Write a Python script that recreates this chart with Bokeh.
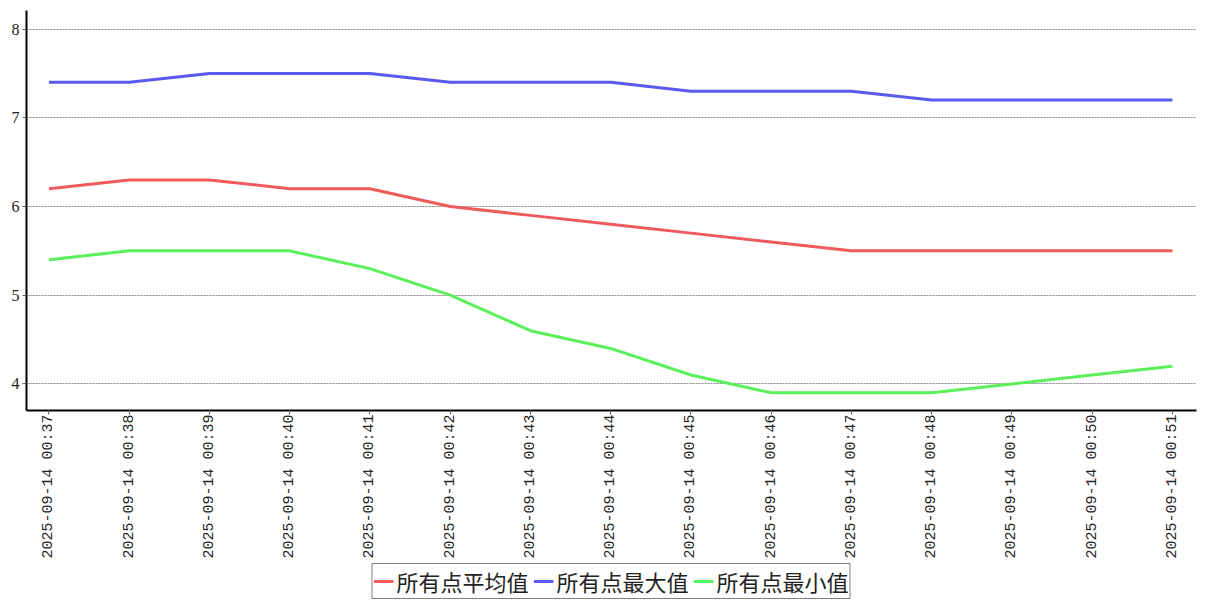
from bokeh.plotting import figure
from bokeh.layouts import column
from bokeh.models import Range1d, FixedTicker, Legend, LegendItem
from bokeh.embed import file_html
from bokeh.resources import INLINE

times = ["2025-09-14 00:37", "2025-09-14 00:38", "2025-09-14 00:39", "2025-09-14 00:40",
         "2025-09-14 00:41", "2025-09-14 00:42", "2025-09-14 00:43", "2025-09-14 00:44",
         "2025-09-14 00:45", "2025-09-14 00:46", "2025-09-14 00:47", "2025-09-14 00:48",
         "2025-09-14 00:49", "2025-09-14 00:50", "2025-09-14 00:51"]
avg_vals = [6.2, 6.3, 6.3, 6.2, 6.2, 6.0, 5.9, 5.8, 5.7, 5.6, 5.5, 5.5, 5.5, 5.5, 5.5]
max_vals = [7.4, 7.4, 7.5, 7.5, 7.5, 7.4, 7.4, 7.4, 7.3, 7.3, 7.3, 7.2, 7.2, 7.2, 7.2]
min_vals = [5.4, 5.5, 5.5, 5.5, 5.3, 5.0, 4.6, 4.4, 4.1, 3.9, 3.9, 3.9, 4.0, 4.1, 4.2]
series_names = ["所有点平均值", "所有点最大值", "所有点最小值"]
series_colors = ["#f05a5a", "#5a5af0", "#5af05a"]
y_ticks = [4, 5, 6, 7, 8]

xs = list(range(len(times)))
series = [avg_vals, max_vals, min_vals]

p = figure(width=1207, height=561, output_backend="svg", toolbar_location=None,
           x_range=Range1d(-0.28, len(times) - 1 + 0.3), y_range=Range1d(3.7, 8.21),
           min_border_left=26, min_border_right=11, min_border_top=10, min_border_bottom=0)
p.outline_line_color = None
p.background_fill_color = "white"

for vals, col in zip(series, series_colors):
    p.line(xs, vals, line_color=col, line_width=3)

p.xaxis.ticker = FixedTicker(ticks=xs)
p.xaxis.major_label_overrides = {i: t for i, t in enumerate(times)}
p.xaxis.major_label_orientation = 1.5708
p.yaxis.ticker = FixedTicker(ticks=y_ticks)

for ax in [p.xaxis, p.yaxis]:
    ax.axis_line_color = "black"
    ax.axis_line_width = 2
    ax.major_tick_line_color = "#666666"
    ax.major_tick_out = 4
    ax.major_tick_in = 0
    ax.minor_tick_line_color = None
    ax.major_label_text_color = "#222222"
p.xaxis.major_label_standoff = 0
p.xaxis.major_label_text_font = "Liberation Mono"
p.yaxis.major_label_text_font = "Liberation Serif"
p.xaxis.major_label_text_font_size = "15px"
p.yaxis.major_label_text_font_size = "16px"
p.yaxis.major_label_standoff = 3

p.xgrid.grid_line_color = None
p.ygrid.grid_line_color = "#888888"
p.ygrid.grid_line_dash = "2 1"
p.ygrid.grid_line_width = 1

# legend strip below the axis labels (same series, drawn outside this strip's view)
pl = figure(width=1207, height=39, output_backend="svg", toolbar_location=None,
            x_axis_type=None, y_axis_type=None, x_range=Range1d(-0.28, len(times) - 1 + 0.3),
            y_range=Range1d(100, 101), min_border=0)
pl.outline_line_color = None
pl.grid.grid_line_color = None
leg_renderers = [pl.line(xs, vals, line_color=col, line_width=3) for vals, col in zip(series, series_colors)]

legend = Legend(items=[LegendItem(label=n, renderers=[r]) for n, r in zip(series_names, leg_renderers)],
                orientation="horizontal", location="center")
legend.label_text_font = "Noto Sans CJK SC"
legend.label_text_font_size = "22px"
legend.label_text_color = "#222222"
legend.glyph_width = 20
legend.label_standoff = 3
legend.spacing = 5
legend.padding = 1
legend.margin = 0
legend.label_height = 26
legend.border_line_color = "black"
legend.border_line_width = 1
legend.background_fill_alpha = 1
pl.add_layout(legend, "center")

layout = column(p, pl, spacing=0)
open("out.html", "w").write(file_html(layout, INLINE))
